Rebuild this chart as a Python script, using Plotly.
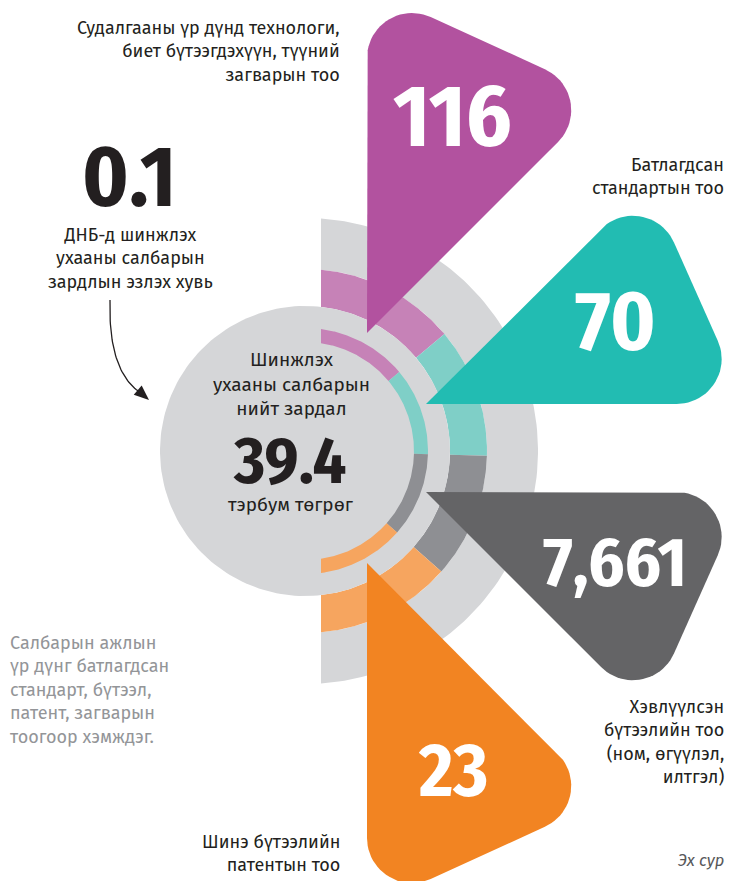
import numpy as np
import plotly.graph_objects as go

W, H = 735, 881
PAGE_OFFSET = 8  # default body margin of the html page

# ---------------- data ----------------
categories = [
    "Судалгааны үр дүнд технологи,<br>биет бүтээгдэхүүн, түүний<br>загварын тоо",
    "Батлагдсан<br>стандартын тоо",
    "Хэвлүүлсэн<br>бүтээлийн тоо<br>(ном, өгүүлэл,<br>илтгэл)",
    "Шинэ бүтээлийн<br>патентын тоо",
]
values = [116, 70, 7661, 23]
pointer_colors = ["#b2529f", "#22bcb2", "#646466", "#f28422"]
ring_colors = ["#c682b7", "#7fcfc7", "#8e8f93", "#f6a55f"]
total_spending = 39.4          # тэрбум төгрөг
gdp_share = 0.1                # % of GDP
center_title = "Шинжлэх<br>ухааны салбарын<br>нийт зардал"
center_unit = "тэрбум төгрөг"
gdp_text = "ДНБ-д шинжлэх<br>ухааны салбарын<br>зардлын эзлэх хувь"
note_text = "Салбарын ажлын<br>үр дүнг батлагдсан<br>стандарт, бүтээл,<br>патент, загварын<br>тоогоор хэмждэг."
source_text = "Эх сур"

# ---------------- geometry (pixel layout) ----------------
CX, CY = 305, 451
CUT_X = 321
R_CIRCLE = 145
R_THIN = (109, 123)
R_MID = (145, 182)
R_OUT = (182, 233)
SEG_EDGES = [90, 40, -1.5, -41.5, -90]

# pointers: apex, (angle, length) of the two straight sides
POINTERS = [
    ((367, 333), (90, 345), (45, 335)),
    ((426, 404), (45, 313), (0, 320)),
    ((426, 492), (0, 320), (-45, 313)),
    ((367, 563), (-45, 335), (-90, 345)),
]
CORNER_R = 45
LABEL_POS = [(342, 51, "right"), (726, 176, "right"), (726, 742, "right"), (342, 853, "right")]
VALUE_POS = [(452, 116), (615, 321), (615, 563), (453, 771)]
VALUE_SIZES = [88, 84, 70, 74]

FONT_TXT = "Fira Sans, Noto Sans, sans-serif"
FONT_NUM = "Fira Sans Condensed, Liberation Sans Narrow, Roboto Condensed, DejaVu Sans Condensed, Roboto, sans-serif"
DARK = "#231f20"


def sector(r_in, r_out, a_hi, a_lo, n=120):
    dcut = CUT_X - CX
    ao_hi = min(a_hi, np.degrees(np.arccos(dcut / r_out)))
    ao_lo = max(a_lo, -np.degrees(np.arccos(dcut / r_out)))
    ai_hi = min(a_hi, np.degrees(np.arccos(dcut / r_in)))
    ai_lo = max(a_lo, -np.degrees(np.arccos(dcut / r_in)))
    t1 = np.radians(np.linspace(ao_hi, ao_lo, n))
    t2 = np.radians(np.linspace(ai_lo, ai_hi, n))
    xs = np.concatenate([CX + r_out * np.cos(t1), CX + r_in * np.cos(t2)])
    ys = np.concatenate([CY - r_out * np.sin(t1), CY - r_in * np.sin(t2)])
    return np.append(xs, xs[0]), np.append(ys, ys[0])


def fillet(V, P, N, r, n=24):
    V, P, N = map(np.asarray, (V, P, N))
    u1 = (P - V) / np.linalg.norm(P - V)
    u2 = (N - V) / np.linalg.norm(N - V)
    th = np.arccos(np.clip(np.dot(u1, u2), -1, 1))
    t = r / np.tan(th / 2)
    T1, T2 = V + u1 * t, V + u2 * t
    bis = (u1 + u2) / np.linalg.norm(u1 + u2)
    c = V + bis * r / np.sin(th / 2)
    a1 = np.arctan2(T1[1] - c[1], T1[0] - c[0])
    a2 = np.arctan2(T2[1] - c[1], T2[0] - c[0])
    d = (a2 - a1 + np.pi) % (2 * np.pi) - np.pi
    aa = a1 + np.linspace(0, d, n)
    return c[0] + r * np.cos(aa), c[1] + r * np.sin(aa)


def pointer_shape(apex, s1, s2, r):
    A = np.array(apex, float)
    B = A + s1[1] * np.array([np.cos(np.radians(s1[0])), -np.sin(np.radians(s1[0]))])
    C = A + s2[1] * np.array([np.cos(np.radians(s2[0])), -np.sin(np.radians(s2[0]))])
    bx, by = fillet(B, A, C, r)
    cx, cy = fillet(C, B, A, r)
    xs = np.concatenate([[A[0]], bx, cx, [A[0]]])
    ys = np.concatenate([[A[1]], by, cy, [A[1]]])
    return xs, ys


fig = go.Figure()


def poly(xs, ys, color):
    fig.add_trace(go.Scatter(x=xs, y=ys, mode="lines", fill="toself", fillcolor=color,
                             line=dict(width=0, color=color), hoverinfo="skip", showlegend=False))


GRAY = "#d5d6d8"
# outer ring
xs, ys = sector(*R_OUT, 90, -90)
poly(xs, ys, GRAY)
# middle coloured ring
for i, col in enumerate(ring_colors):
    xs, ys = sector(*R_MID, SEG_EDGES[i], SEG_EDGES[i + 1])
    poly(xs, ys, col)
# centre circle
t = np.linspace(0, 2 * np.pi, 200)
poly(CX + R_CIRCLE * np.cos(t), CY + R_CIRCLE * np.sin(t), GRAY)
# thin inner ring
for i, col in enumerate(ring_colors):
    xs, ys = sector(*R_THIN, SEG_EDGES[i], SEG_EDGES[i + 1])
    poly(xs, ys, col)
# pointers
for (apex, s1, s2), col in zip(POINTERS, pointer_colors):
    xs, ys = pointer_shape(apex, s1, s2, CORNER_R)
    poly(xs, ys, col)

# curved arrow
tt = np.linspace(0, 1, 40)
P0, P1, P2 = np.array([110, 300]), np.array([108, 372]), np.array([141, 393])
curve = ((1 - tt) ** 2)[:, None] * P0 + (2 * (1 - tt) * tt)[:, None] * P1 + (tt ** 2)[:, None] * P2
fig.add_trace(go.Scatter(x=curve[:, 0], y=curve[:, 1], mode="lines",
                         line=dict(color=DARK, width=1.3), hoverinfo="skip", showlegend=False))
tip = np.array([149, 400])
dirv = (tip - P2) / np.linalg.norm(tip - P2)
perp = np.array([-dirv[1], dirv[0]])
base = tip - dirv * 15
head = np.array([tip, base + perp * 6, base - perp * 6, tip])
poly(head[:, 0], head[:, 1], DARK)

ann = []
for (x, y, anc), txt in zip(LABEL_POS, categories):
    ann.append(dict(x=x, y=y, text=txt, xanchor=anc, yanchor="middle", align=anc,
                    font=dict(family=FONT_TXT, size=18, color=DARK)))
for (x, y), v, fs in zip(VALUE_POS, values, VALUE_SIZES):
    ann.append(dict(x=x, y=y, text=f"{v:,}", xanchor="center", yanchor="middle",
                    font=dict(family=FONT_NUM, size=fs, color="white", weight="bold")))
ann += [
    dict(x=129, y=177, text=f"{gdp_share}", xanchor="center", yanchor="middle",
         font=dict(family=FONT_NUM, size=86, color=DARK, weight="bold")),
    dict(x=130, y=258, text=gdp_text, xanchor="center", yanchor="middle", align="center",
         font=dict(family=FONT_TXT, size=18, color=DARK)),
    dict(x=291, y=384, text=center_title, xanchor="center", yanchor="middle", align="center",
         font=dict(family=FONT_TXT, size=19, color=DARK)),
    dict(x=289, y=460, text=f"{total_spending}", xanchor="center", yanchor="middle",
         font=dict(family=FONT_NUM, size=66, color=DARK, weight="bold")),
    dict(x=291, y=504, text=center_unit, xanchor="center", yanchor="middle",
         font=dict(family=FONT_TXT, size=19, color=DARK)),
    dict(x=8, y=690, text=note_text, xanchor="left", yanchor="middle", align="left",
         font=dict(family=FONT_TXT, size=18, color="#939598")),
    dict(x=726, y=860, text=source_text, xanchor="right", yanchor="middle",
         font=dict(family=FONT_TXT, size=16.5, color="#58595b", style="italic")),
]
for a in ann:
    a.update(xref="x", yref="y", showarrow=False)

fig.update_layout(
    width=W, height=H, margin=dict(l=0, r=0, t=0, b=0),
    paper_bgcolor="white", plot_bgcolor="white",
    xaxis=dict(range=[PAGE_OFFSET, W + PAGE_OFFSET], visible=False, fixedrange=True),
    yaxis=dict(range=[H + PAGE_OFFSET, PAGE_OFFSET], visible=False, fixedrange=True),
    annotations=ann, showlegend=False,
)
fig.write_html("out.html")
